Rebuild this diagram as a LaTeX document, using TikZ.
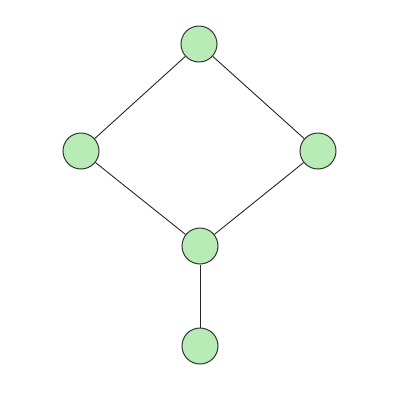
\documentclass[tikz,border=0pt]{standalone}
\begin{document}
\begin{tikzpicture}[x=1pt,y=-1pt,
  vertex/.style={circle,draw=black!80,line width=1pt,fill=green!60!black!0,fill={rgb,255:red,183;green,236;blue,183},minimum size=36pt,inner sep=0pt},
  edge/.style={draw=black!85,line width=0.9pt}]
\useasboundingbox (0,0) rectangle (400,400);
\fill[white] (0,0) rectangle (400,400);
\node[vertex] (t) at (199,44) {};
\node[vertex] (l) at (81,151) {};
\node[vertex] (r) at (318,151) {};
\node[vertex] (c) at (200,246) {};
\node[vertex] (b) at (200,346) {};
\draw[edge] (t) -- (l);
\draw[edge] (t) -- (r);
\draw[edge] (l) -- (c);
\draw[edge] (r) -- (c);
\draw[edge] (c) -- (b);
\end{tikzpicture}
\end{document}
